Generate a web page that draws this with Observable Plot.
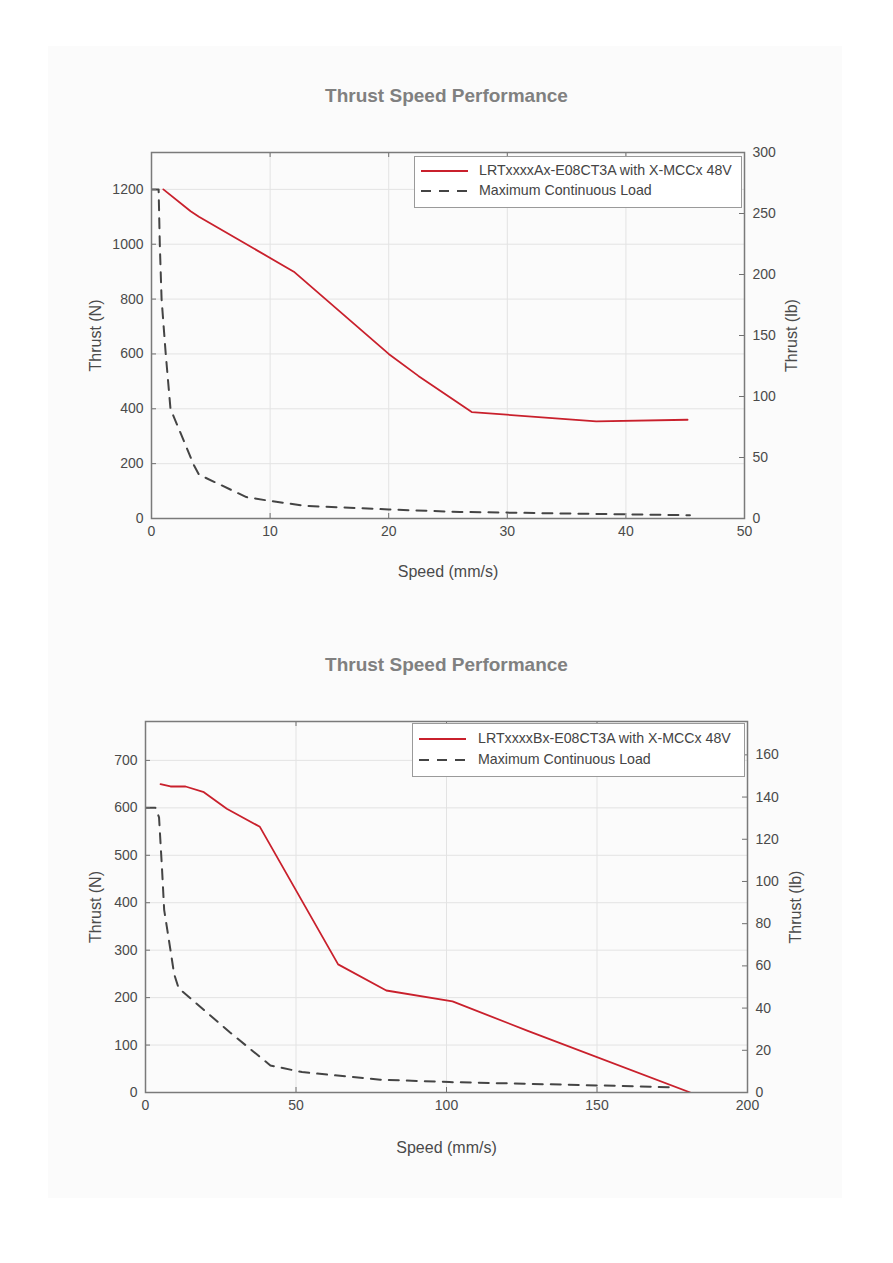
<!DOCTYPE html>
<html>
<head>
<meta charset="utf-8">
<script src="https://cdn.jsdelivr.net/npm/d3@7"></script>
<script src="https://cdn.jsdelivr.net/npm/@observablehq/plot@0.6"></script>
<style>
  html, body { margin: 0; padding: 0; background: #ffffff; }
  body { width: 893px; height: 1263px; position: relative; overflow: hidden; font-family: "Liberation Sans", Arial, sans-serif; }
  #panel { position: absolute; left: 48px; top: 46px; width: 794px; height: 1152px; background: #fbfbfb; }
  .title { position: absolute; left: 0; width: 893px; text-align: center; font-weight: bold; font-size: 19px; color: #808080; }
  .chart { position: absolute; left: 0; }
  .chart svg { background: transparent !important; }
  .legend { position: absolute; background: #ffffff; border: 1px solid #9a9a9a; box-sizing: border-box; }
  .legend .row { position: absolute; left: 0; height: 20px; width: 100%; }
  .legend svg { position: absolute; left: 6px; top: 0; }
  .legend span { position: absolute; top: 1px; font-size: 14.2px; color: #444; white-space: nowrap; }
</style>
</head>
<body>
<div id="panel"></div>
<div class="title" style="top:85px">Thrust Speed Performance</div>
<div class="title" style="top:654px">Thrust Speed Performance</div>
<div id="c1" class="chart" style="top:100px"></div>
<div id="c2" class="chart" style="top:670px"></div>
<script>
const N_PER_LB = 4.44822;

// ---- Chart 1 (Ax) ----
const topSeriesName = "LRTxxxxAx-E08CT3A with X-MCCx 48V";
const topSpeed = [1, 3.3, 4, 12, 20, 22.5, 27, 37.5, 45.2];
const topThrust = [1200, 1120, 1100, 900, 600, 520, 388, 354, 360];
const topLoadSpeed = [0, 0.6, 0.7, 0.85, 1.2, 1.6, 3.6, 4, 8, 10, 13, 20, 26, 37, 45.4];
const topLoadThrust = [1200, 1200, 1000, 800, 600, 400, 192, 160, 78, 64, 46, 33, 24, 17, 12];
const topXTicks = [0, 10, 20, 30, 40, 50];
const topYTicks = [0, 200, 400, 600, 800, 1000, 1200];
const topLbTicks = [0, 50, 100, 150, 200, 250, 300];

// ---- Chart 2 (Bx) ----
const botSeriesName = "LRTxxxxBx-E08CT3A with X-MCCx 48V";
const botSpeed = [5, 8.3, 13.3, 19.4, 27, 38, 64, 80, 102, 127, 181];
const botThrust = [650, 645, 645, 633, 598, 560, 270, 215, 192, 130, 0];
const botLoadSpeed = [0, 3.3, 4.5, 5.5, 6.2, 8.3, 9.5, 11, 28, 41.5, 52, 78, 101, 150, 175];
const botLoadThrust = [600, 600, 580, 470, 385, 300, 250, 220, 127, 57, 43, 27, 22, 15, 11];
const botXTicks = [0, 50, 100, 150, 200];
const botYTicks = [0, 100, 200, 300, 400, 500, 600, 700];
const botLbTicks = [0, 20, 40, 60, 80, 100, 120, 140, 160];

const loadName = "Maximum Continuous Load";
const RED = "#c9202c";
const DASH = "#444444";
const DASHARRAY = "10,8";

function makeChart(cfg) {
  const W = 893;
  const frameW = W - cfg.ml - cfg.mr;
  const frameH = cfg.h - cfg.mt - cfg.mb;
  const curve = cfg.speed.map((s, i) => ({speed: s, thrust: cfg.thrust[i]}));
  const load = cfg.loadSpeed.map((s, i) => ({speed: s, thrust: cfg.loadThrust[i]}));
  const lbAsN = cfg.lbTicks.map(v => v * N_PER_LB);
  return Plot.plot({
    width: W,
    height: cfg.h,
    marginLeft: cfg.ml,
    marginRight: cfg.mr,
    marginTop: cfg.mt,
    marginBottom: cfg.mb,
    style: {fontFamily: "'Liberation Sans', Arial, sans-serif", background: "transparent", color: "#4a4a4a"},
    x: {domain: cfg.xDomain},
    y: {domain: cfg.yDomain},
    marks: [
      Plot.gridX(cfg.xTicks, {stroke: "#e3e3e3", strokeOpacity: 1}),
      Plot.gridY(cfg.yTicks, {stroke: "#e3e3e3", strokeOpacity: 1}),
      Plot.line(load, {x: "speed", y: "thrust", stroke: DASH, strokeWidth: 2, strokeDasharray: DASHARRAY, clip: true}),
      Plot.line(curve, {x: "speed", y: "thrust", stroke: RED, strokeWidth: 1.8, clip: true}),
      // inward ticks
      Plot.tickX(cfg.xTicks, {x: d => d, insetTop: frameH - 5, stroke: "#707070"}),
      Plot.tickX(cfg.xTicks, {x: d => d, insetBottom: frameH - 5, stroke: "#707070"}),
      Plot.tickY(cfg.yTicks, {y: d => d, insetRight: frameW - 5, stroke: "#707070"}),
      Plot.tickY(lbAsN, {y: d => d, insetLeft: frameW - 5, stroke: "#707070"}),
      Plot.axisX({ticks: cfg.xTicks, tickSize: 0, tickPadding: 8, fontSize: 14,
        tickFormat: d => String(d),
        label: "Speed (mm/s)", labelAnchor: "center", labelArrow: "none", labelOffset: cfg.xLabelOffset}),
      Plot.axisY({anchor: "left", ticks: cfg.yTicks, tickSize: 0, tickPadding: 8, fontSize: 14,
        tickFormat: d => String(d),
        label: "Thrust (N)", labelAnchor: "center", labelArrow: "none", labelOffset: cfg.yLabelOffset}),
      Plot.axisY({anchor: "right", ticks: lbAsN, tickSize: 0, tickPadding: 8, fontSize: 14,
        tickFormat: d => String(Math.round(d / N_PER_LB)),
        label: "Thrust (lb)", labelAnchor: "center", labelArrow: "none", labelOffset: cfg.rLabelOffset}),
      Plot.frame({stroke: "#7a7a7a", strokeWidth: 1.5})
    ]
  });
}

function styleLabels(svg) {
  svg.querySelectorAll("[aria-label$='axis label'] text, [aria-label$='axis label']").forEach(t => {
    t.setAttribute("font-size", "16");
  });
}

const c1 = makeChart({
  h: 500, ml: 151, mr: 149, mt: 52, mb: 82,
  xDomain: [0, 50], yDomain: [0, 300 * N_PER_LB],
  speed: topSpeed, thrust: topThrust, loadSpeed: topLoadSpeed, loadThrust: topLoadThrust,
  xTicks: topXTicks, yTicks: topYTicks, lbTicks: topLbTicks,
  xLabelOffset: 58, yLabelOffset: 62, rLabelOffset: 52
});
styleLabels(c1);
document.getElementById("c1").appendChild(c1);

const c2 = makeChart({
  h: 500, ml: 145, mr: 146, mt: 51, mb: 78,
  xDomain: [0, 200], yDomain: [0, 782],
  speed: botSpeed, thrust: botThrust, loadSpeed: botLoadSpeed, loadThrust: botLoadThrust,
  xTicks: botXTicks, yTicks: botYTicks, lbTicks: botLbTicks,
  xLabelOffset: 60, yLabelOffset: 56, rLabelOffset: 53
});
styleLabels(c2);
document.getElementById("c2").appendChild(c2);

// ---- Legends ----
function addLegend(left, top, width, height, seriesName, rowY1, rowY2, textX) {
  const box = document.createElement("div");
  box.className = "legend";
  Object.assign(box.style, {left: left + "px", top: top + "px", width: width + "px", height: height + "px"});
  const rows = [
    {y: rowY1, name: seriesName, stroke: RED, dash: null, sw: 1.8},
    {y: rowY2, name: loadName, stroke: DASH, dash: DASHARRAY, sw: 2}
  ];
  rows.forEach(r => {
    const row = document.createElement("div");
    row.className = "row";
    row.style.top = (r.y - top - 10) + "px";
    const s = document.createElementNS("http://www.w3.org/2000/svg", "svg");
    s.setAttribute("width", "50"); s.setAttribute("height", "20");
    const ln = document.createElementNS("http://www.w3.org/2000/svg", "line");
    ln.setAttribute("x1", "0"); ln.setAttribute("x2", "47");
    ln.setAttribute("y1", "10"); ln.setAttribute("y2", "10");
    ln.setAttribute("stroke", r.stroke); ln.setAttribute("stroke-width", r.sw);
    if (r.dash) ln.setAttribute("stroke-dasharray", r.dash);
    s.appendChild(ln);
    row.appendChild(s);
    const sp = document.createElement("span");
    sp.textContent = r.name;
    sp.style.left = (textX - left) + "px";
    row.appendChild(sp);
    box.appendChild(row);
  });
  document.body.appendChild(box);
}
addLegend(414, 156, 328, 52, topSeriesName, 170, 190, 478);
addLegend(412, 723, 333, 54, botSeriesName, 738, 759, 477);
</script>
</body>
</html>
